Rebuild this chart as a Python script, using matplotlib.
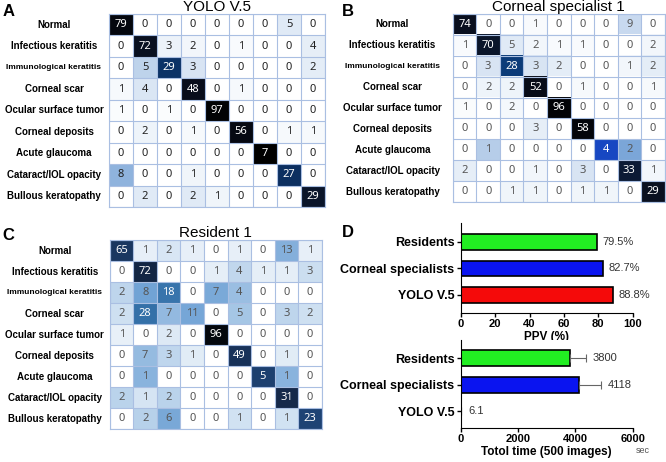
import numpy as np
import matplotlib
matplotlib.use("Agg")
import matplotlib.pyplot as plt
from matplotlib.colors import LinearSegmentedColormap, PowerNorm
from matplotlib.transforms import blended_transform_factory

plt.rcParams['font.family'] = ['Liberation Sans', 'DejaVu Sans']

classes = ["Normal", "Infectious keratitis", "Immunological keratitis", "Corneal scar",
           "Ocular surface tumor", "Corneal deposits", "Acute glaucoma",
           "Cataract/IOL opacity", "Bullous keratopathy"]

yolo_cm = [[79, 0, 0, 0, 0, 0, 0, 5, 0],
           [0, 72, 3, 2, 0, 1, 0, 0, 4],
           [0, 5, 29, 3, 0, 0, 0, 0, 2],
           [1, 4, 0, 48, 0, 1, 0, 0, 0],
           [1, 0, 1, 0, 97, 0, 0, 0, 0],
           [0, 2, 0, 1, 0, 56, 0, 1, 1],
           [0, 0, 0, 0, 0, 0, 7, 0, 0],
           [8, 0, 0, 1, 0, 0, 0, 27, 0],
           [0, 2, 0, 2, 1, 0, 0, 0, 29]]

specialist_cm = [[74, 0, 0, 1, 0, 0, 0, 9, 0],
                 [1, 70, 5, 2, 1, 1, 0, 0, 2],
                 [0, 3, 28, 3, 2, 0, 0, 1, 2],
                 [0, 2, 2, 52, 0, 1, 0, 0, 1],
                 [1, 0, 2, 0, 96, 0, 0, 0, 0],
                 [0, 0, 0, 3, 0, 58, 0, 0, 0],
                 [0, 1, 0, 0, 0, 0, 4, 2, 0],
                 [2, 0, 0, 1, 0, 3, 0, 33, 1],
                 [0, 0, 1, 1, 0, 1, 1, 0, 29]]

resident_cm = [[65, 1, 2, 1, 0, 1, 0, 13, 1],
               [0, 72, 0, 0, 1, 4, 1, 1, 3],
               [2, 8, 18, 0, 7, 4, 0, 0, 0],
               [2, 28, 7, 11, 0, 5, 0, 3, 2],
               [1, 0, 2, 0, 96, 0, 0, 0, 0],
               [0, 7, 3, 1, 0, 49, 0, 1, 0],
               [0, 1, 0, 0, 0, 0, 5, 1, 0],
               [2, 1, 2, 0, 0, 0, 0, 31, 0],
               [0, 2, 6, 0, 0, 1, 0, 1, 23]]

groups = ["Residents", "Corneal specialists", "YOLO V.5"]
ppv = [79.5, 82.7, 88.8]
total_time = [3800, 4118, 6.1]
time_err = [560, 770, 0]
time_labels = ["3800", "4118", "6.1"]
bar_colors = ["#22ee22", "#0a14f0", "#f50a0a"]

# A and B colour scale
cmap_ab = LinearSegmentedColormap.from_list(
    "cm_ab", [(0.0, "#ffffff"), (0.1, "#cbdcf0"), (0.22, "#8fb3dd"), (0.4, "#5a90d2"),
              (0.57, "#1848c4"), (0.72, "#0b3b78"), (0.8, "#0e2040"), (0.9, "#080c18"),
              (1.0, "#000000")])
# C looks a bit more steel blue
cmap_c = LinearSegmentedColormap.from_list(
    "cm_c", [(0.0, "#ffffff"), (0.1, "#dbe8f5"), (0.25, "#9cc0e3"), (0.45, "#5d95cf"),
             (0.65, "#3470a8"), (0.8, "#1f4577"), (0.92, "#15294a"), (1.0, "#000000")])

fig = plt.figure(figsize=(6.66, 4.62), dpi=100)


def draw_cm(rect, data, title, lab_off, cmap, gamma, white_th, bold_nums, num_color):
    ax = fig.add_axes(rect)
    m = np.array(data, dtype=float)
    frac = m / m.sum(axis=1, keepdims=True)
    ax.imshow(frac, cmap=cmap, norm=PowerNorm(gamma, 0, 1), aspect='auto')
    n = m.shape[0]
    ax.set_xticks(np.arange(-0.5, n, 1), minor=True)
    ax.set_yticks(np.arange(-0.5, n, 1), minor=True)
    ax.grid(which='minor', color='#aabfe2', linewidth=0.8)
    ax.tick_params(which='both', length=0, labelbottom=False, labelleft=False)
    ax.set_xticks([])
    ax.set_yticks([])
    for s in ax.spines.values():
        s.set_color('#aabfe2')
    for i in range(n):
        for j in range(n):
            v = frac[i, j] ** gamma
            c = 'white' if v > white_th else num_color
            ax.text(j, i, str(int(m[i, j])), ha='center', va='center', fontsize=8,
                    color=c, fontweight='bold' if bold_nums else 'normal',
                    family=['Noto Sans', 'DejaVu Sans'])
    tr = blended_transform_factory(ax.transAxes, ax.transData)
    for i, name in enumerate(classes):
        size = 6.0 if name.startswith("Immuno") else 7.0
        ax.text(lab_off, i, name, transform=tr, ha='center', va='center',
                fontsize=size, fontweight='bold')
    ax.set_title(title, fontsize=11, pad=2)
    return ax


draw_cm([0.1637, 0.552, 0.3243, 0.4177], yolo_cm, "YOLO V.5", -0.255,
        cmap_ab, 1.0, 0.5, True, '#222222')
draw_cm([0.680, 0.5628, 0.318, 0.407], specialist_cm, "Corneal specialist 1", -0.285,
        cmap_ab, 1.0, 0.5, False, '#555555')
draw_cm([0.165, 0.0714, 0.318, 0.409], resident_cm, "Resident 1", -0.26,
        cmap_c, 0.6, 0.62, False, '#555555')

fig.text(0.004, 0.975, 'A', fontsize=12, fontweight='bold', va='center')
fig.text(0.513, 0.975, 'B', fontsize=12, fontweight='bold', va='center')
fig.text(0.004, 0.49, 'C', fontsize=12, fontweight='bold', va='center')
fig.text(0.513, 0.497, 'D', fontsize=12, fontweight='bold', va='center')

pos = [2, 1, 0]

# PPV panel
ax1 = fig.add_axes([0.692, 0.3225, 0.258, 0.195])
ax1.barh(pos, ppv, height=0.6, color=bar_colors, edgecolor='black', linewidth=1.2)
for p, v in zip(pos, ppv):
    ax1.text(v + 3, p, f"{v}%", va='center', fontsize=8, color='#333333')
ax1.set_xlim(0, 100)
ax1.set_ylim(-0.68, 2.72)
ax1.set_xticks([0, 20, 40, 60, 80, 100])
ax1.set_yticks(pos)
ax1.set_yticklabels(groups, fontsize=9, fontweight='bold')
ax1.set_xlabel("PPV (%)", fontsize=8.5, fontweight='bold', labelpad=1)
for lab in ax1.get_xticklabels():
    lab.set_fontweight('bold')
    lab.set_fontsize(8)
ax1.spines['top'].set_visible(False)
ax1.spines['right'].set_visible(False)
ax1.tick_params(length=3, width=1, pad=1.5)

# Time panel
ax2 = fig.add_axes([0.692, 0.0736, 0.258, 0.19])
ax2.barh(pos, total_time, height=0.6, color=bar_colors[:2] + ['white'],
         edgecolor=['black', 'black', 'none'], linewidth=1.2,
         xerr=[[0, 0, 0], time_err],
         error_kw=dict(ecolor='#666666', capsize=3, elinewidth=0.8, capthick=0.8))
for p, v, e, t in zip(pos, total_time, time_err, time_labels):
    ax2.text(v + e + 250, p, t, va='center', fontsize=8, color='#333333')
ax2.set_xlim(0, 6000)
ax2.set_ylim(-0.64, 2.68)
ax2.set_xticks([0, 2000, 4000, 6000])
ax2.set_yticks(pos)
ax2.set_yticklabels(groups, fontsize=9, fontweight='bold')
ax2.set_xlabel("Totol time (500 images)", fontsize=8.5, fontweight='bold', labelpad=1)
for lab in ax2.get_xticklabels():
    lab.set_fontweight('bold')
    lab.set_fontsize(8)
ax2.spines['top'].set_visible(False)
ax2.spines['right'].set_visible(False)
ax2.tick_params(length=3, width=1, pad=1.5)
fig.text(0.955, 0.02, "sec", fontsize=6.5, color='#555555')

fig.savefig("out.png", dpi=100)
